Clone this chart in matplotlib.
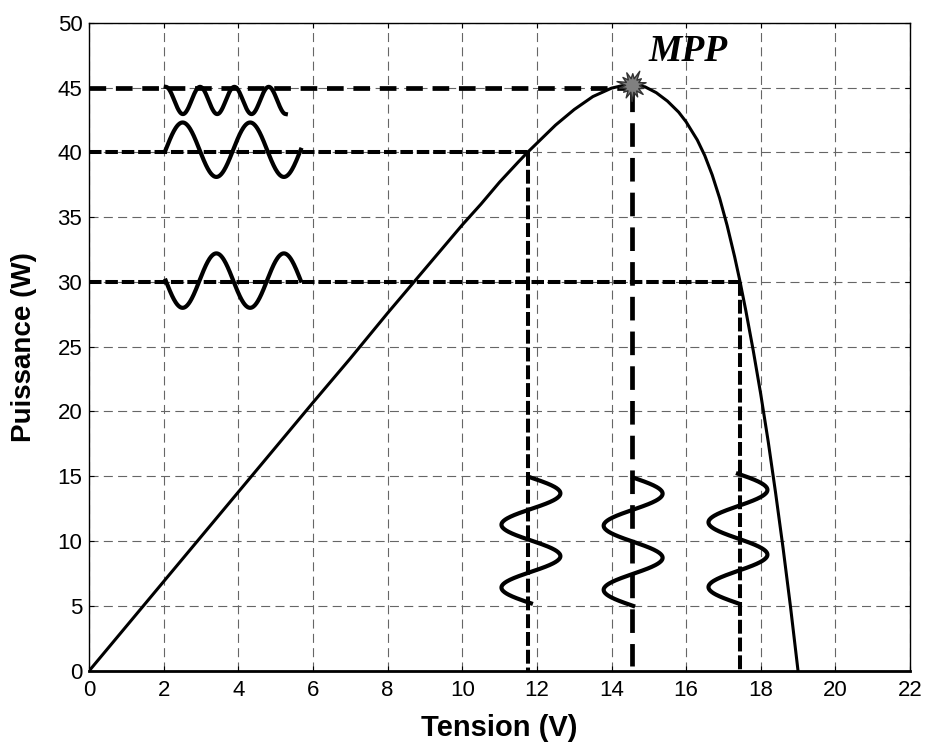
import numpy as np
import matplotlib
matplotlib.use('Agg')
import matplotlib.pyplot as plt
from matplotlib.path import Path

plt.rcParams['lines.scale_dashes'] = False
plt.rcParams['font.family'] = ['Liberation Sans', 'DejaVu Sans']

# ---- P-V curve ----
tension = [0, 1, 2, 3, 4, 5, 6, 7, 8, 9, 10, 10.5, 11, 11.5, 11.75, 12, 12.5, 13,
           13.5, 14, 14.3, 14.6, 14.9, 15.2, 15.5, 15.8, 16.0, 16.3, 16.5, 16.7,
           16.9, 17.1, 17.3, 17.44, 17.6, 17.8, 18.0, 18.2, 18.4, 18.6, 18.8, 19.0]
puissance = [0, 3.45, 6.9, 10.35, 13.8, 17.25, 20.7, 24.1, 27.6, 31.0, 34.4, 36.0,
             37.7, 39.25, 40.0, 40.7, 42.1, 43.3, 44.3, 44.95, 45.15, 45.2, 45.05,
             44.6, 43.95, 43.1, 42.35, 40.95, 39.75, 38.25, 36.45, 34.35, 31.95,
             30.1, 27.8, 24.7, 21.35, 17.7, 13.7, 9.45, 4.9, 0]

# operating points
op_v = [11.77, 14.56, 17.44]
op_p = [40, 45, 30]
mpp_v, mpp_p = 14.56, 45.2
mpp_label = "MPP"

x_ticks = list(range(0, 23, 2))
y_ticks = list(range(0, 51, 5))

# oscillation sketches (illustrative shapes)
hw_center = [44.0, 40.2, 30.1]
hw_amp = [1.05, 2.1, -2.1]
hw_start = [2.05, 2.05, 2.05]
hw_end = [5.27, 5.67, 5.67]
hw_cycles = [3.5, 2, 2]
hw_phase = [np.pi / 2, 0, 0]

vw_center = [11.84, 14.58, 17.39]
vw_amp = [0.79, 0.79, 0.79]
vw_top = [14.9, 14.9, 15.2]
vw_bot = [5.2, 5.0, 5.2]
vw_cycles = [2, 2, 2]

fig = plt.figure(figsize=(9.25, 7.42), dpi=100)
ax = fig.add_axes([0.0965, 0.0961, 0.8872, 0.8733])

ax.set_xlim(0, 22)
ax.set_ylim(0, 50)
ax.set_xticks(x_ticks)
ax.set_yticks(y_ticks)
ax.tick_params(direction='in', length=3.6, width=0.8, top=True, right=True,
               labelsize=16)
ax.tick_params(axis='x', pad=7)
ax.tick_params(axis='y', pad=5)
ax.grid(True, color='#666666', lw=0.8, linestyle=(0, (6.5, 3.8)))
ax.set_axisbelow(True)
for s in ['left', 'right', 'top']:
    ax.spines[s].set_linewidth(1.0)
ax.spines['bottom'].set_linewidth(2.0)

# main curve
ax.plot(tension, puissance, color='black', lw=2.2, solid_capstyle='round',
        solid_joinstyle='round', zorder=5)

# horizontal dashed reference lines
h_styles = [(2.9, (9, 2.8)), (3.4, (12, 7)), (2.9, (9, 2.8))]
for v, p, (lw, ds) in zip(op_v, op_p, h_styles):
    ax.plot([0, v], [p, p], color='black', lw=lw, linestyle=(0, ds), zorder=4)

# vertical dashed reference lines
v_bottom = [0, 0.4, 0]
v_styles = [(2.9, (10, 2.8)), (3.4, (17, 8)), (2.9, (10, 2.8))]
for v, p, b, (lw, ds) in zip(op_v, op_p, v_bottom, v_styles):
    ax.plot([v, v], [p, b], color='black', lw=lw, linestyle=(0, ds), zorder=4)

# horizontal waves
for c, a, s, e, n, ph in zip(hw_center, hw_amp, hw_start, hw_end, hw_cycles, hw_phase):
    t = np.linspace(0, 1, 300)
    ax.plot(s + (e - s) * t, c + a * np.sin(2 * np.pi * n * t + ph),
            color='black', lw=3.0, zorder=6)

# vertical waves
for c, a, top, bot, n in zip(vw_center, vw_amp, vw_top, vw_bot, vw_cycles):
    t = np.linspace(0, 1, 300)
    ax.plot(c + a * np.sin(2 * np.pi * n * t), top - (top - bot) * t,
            color='black', lw=3.0, zorder=6)

# MPP burst marker
k = 14
ang = np.linspace(0, 2 * np.pi, 2 * k, endpoint=False) + 0.2
rad = np.where(np.arange(2 * k) % 2 == 0, 1.0, 0.5)
rad = rad * np.array([1.0, 1, 0.8, 1, 1.15, 1, 0.85, 1, 1.0, 1, 0.9, 1, 1.15, 1,
                      0.95, 1, 0.8, 1, 1.0, 1, 1.15, 1, 0.9, 1, 1.0, 1, 0.85, 1])
verts = np.column_stack([rad * np.cos(ang), rad * np.sin(ang)])
verts = np.vstack([verts, verts[:1]])
burst = Path(verts, closed=True)
ax.plot([mpp_v], [mpp_p], marker=burst, ms=23, mfc='#808080', mec='#333333',
        mew=1.0, linestyle='none', zorder=8)

ax.text(15.0, 47.8, mpp_label, fontsize=27, fontweight='bold', fontstyle='italic',
        family=['Liberation Serif', 'DejaVu Serif'], va='center', ha='left', zorder=9)

ax.set_xlabel('Tension (V)', fontsize=21, fontweight='bold', labelpad=9)
ax.set_ylabel('Puissance (W)', fontsize=20, fontweight='bold', labelpad=15)

fig.savefig('out.png', dpi=100)
